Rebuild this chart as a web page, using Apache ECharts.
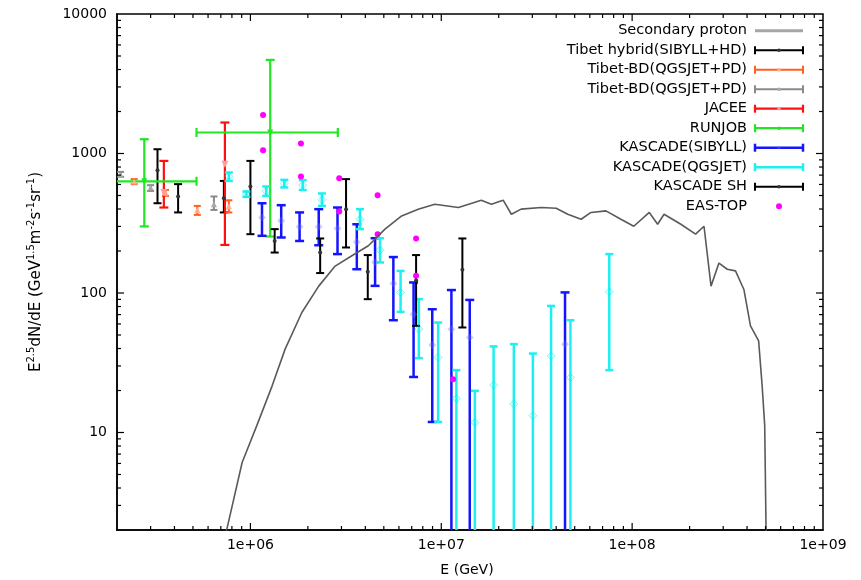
<!DOCTYPE html>
<html>
<head>
<meta charset="utf-8">
<script src="https://cdn.jsdelivr.net/npm/echarts@6/dist/echarts.min.js"></script>
<style>
  html, body { margin: 0; padding: 0; background: #fff; }
  #chart { width: 861px; height: 580px; }
</style>
</head>
<body>
<div id="chart"></div>
<script>
// Proton spectrum: E^2.5 dN/dE against energy, log-log.
const xMin = 2e5, xMax = 1e9, yMin = 2, yMax = 1e4;
const xTickLabels = ['1e+06', '1e+07', '1e+08', '1e+09'];
const yTickLabels = ['10', '100', '1000', '10000'];

// Secondary proton model curve: [E (GeV), value]
const secondaryProton = [
  [7.2e5, 1.6], [7.56e5, 2.08], [9.05e5, 6.09], [1.08e6, 11.2], [1.30e6, 21.6],
  [1.52e6, 39.6], [1.86e6, 72.5], [2.28e6, 112], [2.78e6, 156], [3.40e6, 185],
  [4.15e6, 218], [5.07e6, 287], [6.20e6, 357], [7.57e6, 399], [9.25e6, 433],
  [1.23e7, 410], [1.62e7, 463], [1.83e7, 433], [2.11e7, 463], [2.33e7, 367],
  [2.62e7, 399], [3.34e7, 410], [4.0e7, 405], [4.60e7, 367], [5.40e7, 338],
  [6.09e7, 378], [7.29e7, 388], [8.73e7, 338], [1.02e8, 301], [1.23e8, 378],
  [1.36e8, 311], [1.47e8, 367], [1.80e8, 311], [2.15e8, 264], [2.38e8, 301],
  [2.59e8, 112], [2.85e8, 164], [3.15e8, 148], [3.48e8, 144], [3.85e8, 106],
  [4.17e8, 58.1], [4.60e8, 45.4], [4.80e8, 21.6], [4.95e8, 11.2], [5.03e8, 2.03],
  [5.05e8, 1.2]
];

// Measurements: [E, value, lower, upper]
const tibetHybrid = [
  [3.26e5, 759, 440, 1073],
  [4.18e5, 492, 378, 603],
  [7.26e5, 478, 378, 636],
  [1.00e6, 580, 264, 885]
];
const tibetBdOrange = [
  [2.46e5, 630, 603, 655],
  [3.59e5, 523, 497, 548],
  [5.27e5, 394, 363, 421],
  [7.71e5, 419, 378, 462]
];
const tibetBdGray = [
  [2.09e5, 702, 680, 738],
  [3.00e5, 571, 539, 593],
  [6.44e5, 433, 394, 492]
];
const jacee = [
  [3.52e5, 525, 410, 885],
  [7.35e5, 838, 221, 1668]
];
// RUNJOB: [E, value, E lower, E upper, lower, upper]
const runjob = [
  [2.78e5, 632, 1.47e5, 5.22e5, 300, 1266],
  [1.27e6, 1414, 5.22e5, 2.87e6, 254, 4690]
];
const kascadeSibyll = [
  [1.15e6, 348, 257, 440],
  [1.45e6, 329, 250, 426],
  [1.81e6, 298, 236, 378],
  [2.28e6, 298, 220, 399],
  [2.86e6, 290, 190, 410],
  [3.61e6, 232, 148, 311],
  [4.50e6, 166, 112.5, 247],
  [5.61e6, 117, 63.8, 181],
  [7.16e6, 70.5, 25.0, 119],
  [8.97e6, 42.3, 11.9, 76.5],
  [1.13e7, 55.0, 1, 105],
  [1.41e7, 48.0, 1, 89.2],
  [4.45e7, 43.0, 1, 101]
];
const kascadeQgsjet = [
  [7.71e5, 688, 636, 731],
  [9.53e5, 511, 489, 534],
  [1.21e6, 537, 497, 580],
  [1.505e6, 608, 571, 647],
  [1.88e6, 593, 548, 644],
  [2.37e6, 466, 421, 517],
  [3.75e6, 338, 287, 399],
  [4.78e6, 203, 165.5, 247],
  [6.12e6, 101, 73.2, 144],
  [7.63e6, 55.0, 34.1, 90.3],
  [9.63e6, 34.5, 11.9, 61.4],
  [1.20e7, 17.5, 1, 28.0],
  [1.50e7, 11.8, 1, 19.9],
  [1.88e7, 21.9, 1, 41.4],
  [2.40e7, 16.0, 1, 43.0],
  [3.02e7, 13.2, 1, 36.8],
  [3.76e7, 35.4, 1, 80.8],
  [4.75e7, 24.8, 1, 63.8],
  [7.59e7, 102, 28.0, 190]
];
const kascadeSH = [
  [1.34e6, 236, 195, 287],
  [2.32e6, 195, 139, 246],
  [3.17e6, 399, 212, 655],
  [4.12e6, 142, 90.3, 187],
  [7.38e6, 123, 58.1, 187],
  [1.29e7, 146.5, 56.6, 246]
];
// EAS-TOP points: [E, value]
const easTop = [
  [1.165e6, 1890], [1.165e6, 1056], [1.84e6, 1180], [1.84e6, 684],
  [2.92e6, 665], [2.92e6, 384], [4.64e6, 502], [4.64e6, 264],
  [7.38e6, 246], [7.38e6, 133], [1.154e7, 24.1]
];

const FONT = 'DejaVu Sans';

// Per-dataset drawing styles
const st = {
  tibetHybrid:   { color: '#000000', width: 2, cap: 4, symbol: 'circle', size: 4, fill: '#333333' },
  tibetBdOrange: { color: '#ff5f1f', width: 2, cap: 3.5, symbol: 'triangle', size: 6, fill: '#ffae88' },
  tibetBdGray:   { color: '#8a8a8a', width: 2, cap: 3.5, symbol: 'triangle', size: 6, fill: '#a8a8a8' },
  jacee:         { color: '#ff1010', width: 2.2, cap: 4.5, symbol: 'triangle', rotate: 180, size: 7, fill: '#ff9c9c' },
  runjob:        { color: '#22e622', width: 2.2, cap: 4.5, symbol: 'triangle', rotate: 180, size: 6, fill: '#22e622' },
  kascadeSibyll: { color: '#1414ff', width: 2.5, cap: 4.5, symbol: 'diamond', size: 8, fill: 'rgba(110,110,255,0.35)' },
  kascadeQgsjet: { color: '#1ef0f0', width: 2.5, cap: 4, symbol: 'diamond', size: 8, fill: 'rgba(0,255,255,0.12)', stroke: 'rgba(0,230,230,0.45)' },
  kascadeSH:     { color: '#000000', width: 2, cap: 4, symbol: 'circle', size: 4, fill: '#333333' },
  easTop:        { symbol: 'circle', size: 6, fill: '#ff00ff' }
};

function barSeries(name, data, s) {
  return {
    type: 'custom', name: name, data: data, clip: true, silent: true,
    encode: { x: 0, y: [1, 2, 3] },
    renderItem: function (params, api) {
      const e = api.value(0);
      const lo = api.coord([e, api.value(2)]);
      const hi = api.coord([e, api.value(3)]);
      const ls = { stroke: s.color, lineWidth: s.width, fill: null };
      const c = s.cap;
      return { type: 'group', children: [
        { type: 'line', shape: { x1: lo[0], y1: lo[1], x2: hi[0], y2: hi[1] }, style: ls },
        { type: 'line', shape: { x1: lo[0] - c, y1: lo[1], x2: lo[0] + c, y2: lo[1] }, style: ls },
        { type: 'line', shape: { x1: hi[0] - c, y1: hi[1], x2: hi[0] + c, y2: hi[1] }, style: ls }
      ]};
    }
  };
}

function crossSeries(name, data, s) {
  return {
    type: 'custom', name: name, data: data, clip: true, silent: true,
    encode: { x: [0, 2, 3], y: [1, 4, 5] },
    renderItem: function (params, api) {
      const e = api.value(0), v = api.value(1);
      const lo = api.coord([e, api.value(4)]);
      const hi = api.coord([e, api.value(5)]);
      const le = api.coord([api.value(2), v]);
      const re = api.coord([api.value(3), v]);
      const ls = { stroke: s.color, lineWidth: s.width, fill: null };
      const c = s.cap;
      return { type: 'group', children: [
        { type: 'line', shape: { x1: lo[0], y1: lo[1], x2: hi[0], y2: hi[1] }, style: ls },
        { type: 'line', shape: { x1: lo[0] - c, y1: lo[1], x2: lo[0] + c, y2: lo[1] }, style: ls },
        { type: 'line', shape: { x1: hi[0] - c, y1: hi[1], x2: hi[0] + c, y2: hi[1] }, style: ls },
        { type: 'line', shape: { x1: le[0], y1: le[1], x2: re[0], y2: re[1] }, style: ls },
        { type: 'line', shape: { x1: le[0], y1: le[1] - c, x2: le[0], y2: le[1] + c }, style: ls },
        { type: 'line', shape: { x1: re[0], y1: re[1] - c, x2: re[0], y2: re[1] + c }, style: ls }
      ]};
    }
  };
}

function markerSeries(name, data, s) {
  return {
    type: 'scatter', name: name, silent: true, clip: true,
    data: data.map(function (d) { return [d[0], d[1]]; }),
    symbol: s.symbol, symbolSize: s.size, symbolRotate: s.rotate || 0,
    itemStyle: { color: s.fill, borderColor: s.stroke || s.fill, borderWidth: s.stroke ? 1 : 0, opacity: 1 }
  };
}

// Log-axis tick marks (2..9 minors, decade majors) on all four sides
const majorLen = 7, minorLen = 4;
const xTicks = [], yTicks = [];
[1e5, 1e6, 1e7, 1e8].forEach(function (d) {
  for (let m = 1; m <= 9; m++) {
    const v = d * m;
    if (v > xMin * 1.001 && v < xMax * 0.999) xTicks.push([v, m === 1 ? majorLen : minorLen]);
  }
});
[1, 10, 100, 1000].forEach(function (d) {
  for (let m = 1; m <= 9; m++) {
    const v = d * m;
    if (v > yMin * 1.001 && v < yMax * 0.999) yTicks.push([v, m === 1 ? majorLen : minorLen]);
  }
});
const tickStyle = { stroke: '#000', lineWidth: 1.2 };
const xTickSeries = {
  type: 'custom', data: xTicks, clip: false, silent: true, z: 5,
  renderItem: function (params, api) {
    const v = api.value(0), len = api.value(1);
    const b = api.coord([v, yMin]), t = api.coord([v, yMax]);
    return { type: 'group', children: [
      { type: 'line', shape: { x1: b[0], y1: b[1], x2: b[0], y2: b[1] - len }, style: tickStyle },
      { type: 'line', shape: { x1: t[0], y1: t[1], x2: t[0], y2: t[1] + len }, style: tickStyle }
    ]};
  }
};
const yTickSeries = {
  type: 'custom', data: yTicks, clip: false, silent: true, z: 5,
  renderItem: function (params, api) {
    const v = api.value(0), len = api.value(1);
    const l = api.coord([xMin, v]), r = api.coord([xMax, v]);
    return { type: 'group', children: [
      { type: 'line', shape: { x1: l[0], y1: l[1], x2: l[0] + len, y2: l[1] }, style: tickStyle },
      { type: 'line', shape: { x1: r[0], y1: r[1], x2: r[0] - len, y2: r[1] }, style: tickStyle }
    ]};
  }
};

function tickLabel(list) {
  return function (v) {
    const lv = Math.log10(v);
    const hit = list.find(function (t) { return Math.abs(Math.log10(Number(t)) - lv) < 1e-6; });
    return hit || '';
  };
}

// Key rows: text right-aligned, sample to its right
const keyRows = [
  { name: 'Secondary proton', kind: 'line' },
  { name: 'Tibet hybrid(SIBYLL+HD)', s: st.tibetHybrid },
  { name: 'Tibet-BD(QGSJET+PD)', s: st.tibetBdOrange },
  { name: 'Tibet-BD(QGSJET+PD)', s: st.tibetBdGray },
  { name: 'JACEE', s: st.jacee },
  { name: 'RUNJOB', s: st.runjob },
  { name: 'KASCADE(SIBYLL)', s: st.kascadeSibyll },
  { name: 'KASCADE(QGSJET)', s: st.kascadeQgsjet },
  { name: 'KASCADE SH', s: st.kascadeSH },
  { name: 'EAS-TOP', kind: 'point', s: st.easTop }
];
const keyTextX = 747, keyX1 = 755, keyX2 = 803, keyY0 = 30.7, keyStep = 19.5;
const graphics = [];
keyRows.forEach(function (row, i) {
  const y = keyY0 + keyStep * i;
  graphics.push({
    type: 'text', x: keyTextX, y: y, silent: true,
    style: { text: row.name, font: '14.5px "' + FONT + '"', fill: '#000', align: 'right', verticalAlign: 'middle', textAlign: 'right', textVerticalAlign: 'middle' }
  });
  const mid = (keyX1 + keyX2) / 2;
  if (row.kind === 'line') {
    graphics.push({ type: 'line', silent: true, shape: { x1: keyX1, y1: y, x2: keyX2, y2: y }, style: { stroke: '#a6a6a6', lineWidth: 3 } });
  } else if (row.kind === 'point') {
    graphics.push({ type: 'circle', silent: true, shape: { cx: mid, cy: y, r: row.s.size / 2 }, style: { fill: row.s.fill } });
  } else {
    const ls = { stroke: row.s.color, lineWidth: row.s.width };
    graphics.push({ type: 'line', silent: true, shape: { x1: keyX1, y1: y, x2: keyX2, y2: y }, style: ls });
    graphics.push({ type: 'line', silent: true, shape: { x1: keyX1, y1: y - 4, x2: keyX1, y2: y + 4 }, style: ls });
    graphics.push({ type: 'line', silent: true, shape: { x1: keyX2, y1: y - 4, x2: keyX2, y2: y + 4 }, style: ls });
    graphics.push({ type: 'circle', silent: true, shape: { cx: mid, cy: y, r: 1.8 }, style: { fill: row.s.fill } });
  }
});
// Axis titles
graphics.push({
  type: 'text', x: 467, y: 570, silent: true,
  style: { text: 'E (GeV)', font: '14px "' + FONT + '"', fill: '#000', align: 'center', verticalAlign: 'middle', textAlign: 'center', textVerticalAlign: 'middle' }
});
graphics.push({
  type: 'text', x: 35, y: 272, rotation: Math.PI / 2, silent: true,
  style: {
    text: '{n|E}{s|2.5}{n|dN/dE (GeV}{s|1.5}{n|m}{s|-2}{n|s}{s|-1}{n|sr}{s|-1}{n|)}',
    align: 'center', verticalAlign: 'middle', textAlign: 'center', textVerticalAlign: 'middle',
    rich: {
      n: { fontFamily: FONT, fontSize: 15, color: '#000', fill: '#000', lineHeight: 18, verticalAlign: 'bottom' },
      s: { fontFamily: FONT, fontSize: 10, color: '#000', fill: '#000', lineHeight: 18, verticalAlign: 'top' }
    }
  }
});

const option = {
  animation: false,
  backgroundColor: '#ffffff',
  grid: { left: 117, right: 38, top: 14, bottom: 50, show: true, borderColor: '#000', borderWidth: 1.5, containLabel: false, outerBoundsMode: 'none' },
  xAxis: {
    type: 'log', logBase: 10, min: xMin, max: xMax,
    axisLine: { show: true, lineStyle: { color: '#000', width: 1.5 } },
    axisTick: { show: false }, minorTick: { show: false },
    splitLine: { show: false }, minorSplitLine: { show: false },
    axisLabel: { formatter: tickLabel(xTickLabels), fontFamily: FONT, fontSize: 14, color: '#000', margin: 8 }
  },
  yAxis: {
    type: 'log', logBase: 10, min: yMin, max: yMax,
    axisLine: { show: true, lineStyle: { color: '#000', width: 1.5 } },
    axisTick: { show: false }, minorTick: { show: false },
    splitLine: { show: false }, minorSplitLine: { show: false },
    axisLabel: { formatter: tickLabel(yTickLabels), fontFamily: FONT, fontSize: 14, color: '#000', margin: 10 }
  },
  graphic: graphics,
  series: [
    {
      type: 'line', name: 'Secondary proton', data: secondaryProton, showSymbol: false, symbol: 'none',
      clip: true, silent: true, lineStyle: { color: '#5a5a5a', width: 1.6 }
    },
    barSeries('Tibet hybrid(SIBYLL+HD)', tibetHybrid, st.tibetHybrid),
    markerSeries('Tibet hybrid(SIBYLL+HD)', tibetHybrid, st.tibetHybrid),
    barSeries('Tibet-BD(QGSJET+PD)', tibetBdOrange, st.tibetBdOrange),
    markerSeries('Tibet-BD(QGSJET+PD)', tibetBdOrange, st.tibetBdOrange),
    barSeries('Tibet-BD(QGSJET+PD) ', tibetBdGray, st.tibetBdGray),
    markerSeries('Tibet-BD(QGSJET+PD) ', tibetBdGray, st.tibetBdGray),
    barSeries('JACEE', jacee, st.jacee),
    markerSeries('JACEE', jacee, st.jacee),
    crossSeries('RUNJOB', runjob, st.runjob),
    markerSeries('RUNJOB', runjob, st.runjob),
    barSeries('KASCADE(SIBYLL)', kascadeSibyll, st.kascadeSibyll),
    markerSeries('KASCADE(SIBYLL)', kascadeSibyll, st.kascadeSibyll),
    barSeries('KASCADE(QGSJET)', kascadeQgsjet, st.kascadeQgsjet),
    markerSeries('KASCADE(QGSJET)', kascadeQgsjet, st.kascadeQgsjet),
    barSeries('KASCADE SH', kascadeSH, st.kascadeSH),
    markerSeries('KASCADE SH', kascadeSH, st.kascadeSH),
    markerSeries('EAS-TOP', easTop, st.easTop),
    xTickSeries,
    yTickSeries
  ]
};

const chart = echarts.init(document.getElementById('chart'), null, { renderer: 'canvas' });
chart.setOption(option);
</script>
</body>
</html>
